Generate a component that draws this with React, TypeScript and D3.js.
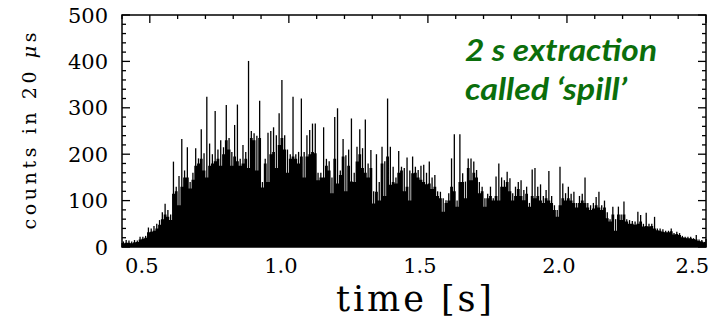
import React from 'react';
import * as d3 from 'd3';

// Histogram: bins of 0.01 s starting at 0.40 s.
// peakCounts = tallest spike in the bin, baseCounts = level of the dense solid fill.
const binStartTime = 0.4;
const binWidth = 0.01;
const peakCounts = [
  12, 15, 14, 12, 15, 14, 22, 22, 24, 42,
  40, 45, 50, 58, 75, 93, 80, 70, 184, 130,
  153, 233, 165, 215, 140, 160, 213, 191, 254, 202,
  324, 223, 200, 293, 210, 230, 215, 306, 235, 205,
  263, 307, 190, 220, 205, 401, 250, 245, 240, 315,
  140, 190, 246, 250, 258, 241, 288, 360, 241, 210,
  200, 324, 200, 205, 320, 205, 241, 252, 266, 266,
  160, 160, 258, 190, 185, 150, 280, 299, 165, 233,
  198, 210, 277, 160, 216, 254, 213, 275, 180, 209,
  120, 200, 140, 216, 185, 320, 216, 173, 150, 207,
  173, 170, 193, 165, 195, 173, 166, 175, 177, 160,
  184, 150, 155, 120, 119, 105, 101, 116, 191, 243,
  100, 243, 159, 141, 191, 191, 184, 166, 140, 130,
  105, 115, 130, 105, 152, 180, 150, 144, 162, 148,
  116, 130, 140, 144, 123, 130, 95, 167, 170, 130,
  135, 110, 123, 164, 110, 90, 80, 173, 137, 116,
  130, 115, 119, 95, 110, 115, 150, 95, 90, 95,
  108, 119, 90, 100, 75, 60, 87, 60, 87, 70,
  98, 60, 58, 56, 55, 76, 69, 50, 74, 50,
  50, 65, 40, 40, 38, 35, 35, 40, 30, 33,
  30, 24, 22, 22, 22, 19, 26, 16, 15, 11,
];
const baseCounts = [
  8, 9, 9, 8, 10, 11, 16, 18, 20, 32,
  33, 35, 40, 48, 60, 70, 65, 58, 115, 120,
  90, 130, 150, 150, 126, 145, 175, 180, 190, 165,
  150, 175, 180, 185, 190, 175, 200, 230, 210, 175,
  195, 185, 175, 180, 190, 170, 235, 230, 165, 235,
  128, 180, 140, 200, 205, 170, 220, 235, 210, 160,
  190, 195, 190, 180, 195, 150, 195, 200, 205, 202,
  144, 150, 150, 175, 165, 116, 190, 137, 155, 195,
  120, 175, 141, 140, 184, 200, 170, 160, 150, 170,
  94, 119, 100, 180, 110, 195, 134, 140, 137, 160,
  165, 120, 130, 100, 159, 160, 150, 145, 140, 135,
  137, 125, 130, 110, 105, 76, 95, 100, 130, 120,
  87, 140, 140, 105, 170, 144, 160, 150, 116, 120,
  87, 105, 110, 100, 110, 100, 130, 130, 140, 120,
  100, 110, 125, 110, 101, 115, 87, 110, 105, 110,
  100, 95, 105, 100, 95, 80, 65, 90, 105, 100,
  105, 100, 95, 85, 95, 100, 95, 85, 80, 83,
  90, 85, 80, 85, 62, 55, 70, 35, 70, 58,
  70, 55, 50, 50, 48, 50, 55, 44, 45, 44,
  45, 40, 36, 35, 33, 32, 32, 34, 27, 28,
  26, 21, 20, 19, 19, 17, 16, 13, 12, 10,
];

const xTickValues = [0.5, 1.0, 1.5, 2.0, 2.5];
const xTickLabels = ['0.5', '1.0', '1.5', '2.0', '2.5'];
const yTickValues = [0, 100, 200, 300, 400, 500];
const yTickLabels = ['0', '100', '200', '300', '400', '500'];
const annotationLines = ['2 s extraction', 'called \u2018spill\u2019'];

const W = 725;
const H = 326;
const serif = "'DejaVu Serif', serif";

export default function App() {
  const x = d3.scaleLinear().domain([0.4, 2.5]).range([122, 706]);
  const y = d3.scaleLinear().domain([0, 500]).range([247, 15]);
  const x0 = x.range()[0];
  const x1 = x.range()[1];
  const yb = y(0);
  const yt = y(500);

  const xMinor = d3.range(4, 26).map((k) => k / 10);
  const yMinor = d3.range(0, 26).map((k) => k * 20);

  const bins = peakCounts.map((p, i) => {
    const t0 = binStartTime + i * binWidth;
    return { t0, t1: t0 + binWidth, peak: p, base: baseCounts[i] };
  });

  const stepPoints = bins.map((b) => ({ t: b.t0, v: b.base }));
  stepPoints.push({ t: bins[bins.length - 1].t1, v: bins[bins.length - 1].base });
  const fillArea = d3
    .area<{ t: number; v: number }>()
    .x((d) => x(d.t))
    .y0(yb)
    .y1((d) => y(d.v))
    .curve(d3.curveStepAfter);

  const tickStroke = 1.3;

  return (
    <svg
      width={W}
      height={H}
      style={{ position: 'absolute', left: 0, top: 0, background: '#fff' }}
    >
      <rect x={0} y={0} width={W} height={H} fill="#fff" />

      {/* histogram */}
      <g>
        <path d={fillArea(stepPoints) || ''} fill="#000" />
        {bins.map((b, i) => (
          <line
            key={'s' + i}
            x1={x((b.t0 + b.t1) / 2)}
            x2={x((b.t0 + b.t1) / 2)}
            y1={yb}
            y2={y(b.peak)}
            stroke="#000"
            strokeWidth={1.3}
          />
        ))}
      </g>

      {/* frame */}
      <rect
        x={x0}
        y={yt}
        width={x1 - x0}
        height={yb - yt}
        fill="none"
        stroke="#000"
        strokeWidth={1.5}
      />

      {/* x ticks */}
      {xMinor.map((v, i) => {
        const major = xTickValues.some((m) => Math.abs(m - v) < 1e-6);
        const len = major ? 8 : 4;
        return (
          <g key={'xt' + i}>
            <line x1={x(v)} x2={x(v)} y1={yt} y2={yt + len} stroke="#000" strokeWidth={tickStroke} />
            <line x1={x(v)} x2={x(v)} y1={yb} y2={yb - len} stroke="#000" strokeWidth={tickStroke} />
          </g>
        );
      })}
      {/* y ticks */}
      {yMinor.map((v, i) => {
        const major = yTickValues.includes(v);
        const len = major ? 8 : 4;
        return (
          <g key={'yt' + i}>
            <line x1={x0} x2={x0 + len} y1={y(v)} y2={y(v)} stroke="#000" strokeWidth={tickStroke} />
            <line x1={x1} x2={x1 - len} y1={y(v)} y2={y(v)} stroke="#000" strokeWidth={tickStroke} />
          </g>
        );
      })}

      {/* x tick labels */}
      {xTickValues.map((v, i) => {
        const last = i === xTickValues.length - 1;
        return (
          <text
            key={'xl' + i}
            x={last ? 709 : x(v) - 8}
            y={273}
            textAnchor={last ? 'end' : 'middle'}
            fontFamily={serif}
            fontSize={21}
            fill="#000"
          >
            {xTickLabels[i]}
          </text>
        );
      })}
      {/* y tick labels */}
      {yTickValues.map((v, i) => (
        <text
          key={'yl' + i}
          x={108}
          y={y(v)}
          dy="0.36em"
          textAnchor="end"
          fontFamily={serif}
          fontSize={21}
          fill="#000"
        >
          {yTickLabels[i]}
        </text>
      ))}

      {/* axis titles */}
      <text
        x={414}
        y={311}
        textAnchor="middle"
        fontFamily={serif}
        fontSize={35}
        textLength={156}
        lengthAdjust="spacing"
        fill="#000"
      >
        time [s]
      </text>
      <text
        transform="translate(36,131) rotate(-90)"
        textAnchor="middle"
        fontFamily={serif}
        fontSize={19}
        textLength={197}
        lengthAdjust="spacing"
        fill="#000"
      >
        counts in 20 <tspan fontStyle="italic">μ</tspan>s
      </text>

      {/* annotation */}
      {annotationLines.map((line, i) => (
        <text
          key={'an' + i}
          x={465}
          y={61 + i * 39}
          fontFamily="Lato, 'Open Sans', sans-serif"
          fontWeight="bold"
          fontStyle="italic"
          fontSize={31}
          textLength={i === 0 ? 192 : 162}
          lengthAdjust="spacingAndGlyphs"
          fill="#0b6e0b"
        >
          {line}
        </text>
      ))}
    </svg>
  );
}
